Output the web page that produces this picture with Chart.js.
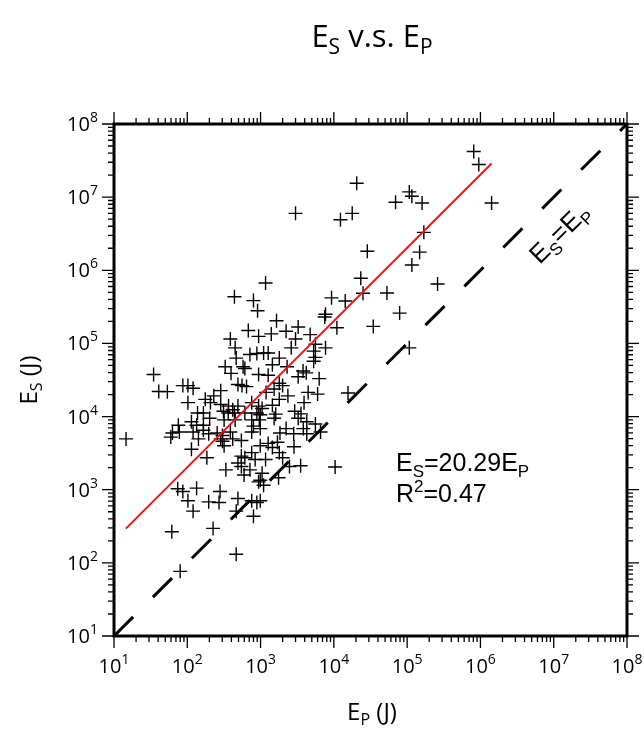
<!DOCTYPE html>
<html lang="en">
<head>
<meta charset="UTF-8" />
<title>Es v.s. Ep</title>
<style>
  body { margin: 0; background: #fff; }
  canvas { display: block; }
</style>
</head>
<body>
<canvas id="chart" width="644" height="736"></canvas>
<script src="https://cdn.jsdelivr.net/npm/chart.js"></script>
<script>
// E_P (J) of every event
const epValues = [
  8.1e5, 9.5e5, 2.05e4, 1.07e5, 1.16e5, 6.95e4, 1.6e5, 1.42e6, 3.0e3, 1.78e4,
  1.23e4, 1.69e5, 2.86e4, 1.48e5, 1.16e5, 1.17e3, 2.33e4, 2.6e5, 440, 800,
  910, 9.3e3, 1.43e4, 2.5e4, 5.3e4, 7.7e3, 7.5e3, 7.9e4, 1.65e3, 1.1e4,
  3.45e4, 680, 940, 1.4e3, 2.23e3, 3.26e3, 4.75e3, 387, 3.0e3, 450,
  2.62e3, 5.6e3, 7.7e3, 1.07e5, 5.3e3, 890, 1.1e3, 1.27e3, 716, 465,
  1.8e3, 5.6e3, 1.45e3, 577, 610, 329, 395, 2.3e3, 5.3e3, 3.8e3,
  4.2e3, 940, 1.27e3, 3.26e3, 6.3e3, 34.7, 87, 102, 120, 40.8,
  53.5, 491, 558, 643, 1.8e3, 2.0e3, 286, 230, 1.19e3, 1.53e3,
  2.36e3, 4.46e3, 6.0e3, 1.56e4, 102, 176, 207, 286, 366, 417,
  491, 757, 940, 1.05e3, 1.45e3, 1.8e3, 3.92e3, 138, 166, 312,
  362, 440, 610, 890, 990, 1.61e3, 2.92e3, 3.56e3, 202, 114,
  318, 450, 757, 960, 1.53e3, 3.26e3, 4.27e3, 75.5, 134, 166,
  78, 800, 990, 2.23e3, 3.83e3, 5.6e3, 62.8, 59.6, 14.6, 120,
  166, 196, 256, 302, 387, 757, 1.84e3, 2.83e3, 4.27e3, 6.58e3,
  286, 302, 417, 547, 1.27e3, 1.7e3, 142, 114, 318, 990,
  1.45e3, 1.8e3, 2.86e3, 757, 185, 547, 610, 491, 843, 1.17e3,
  2.0e3, 336, 547, 716, 2.48e3, 3.52e3, 1.04e4, 596, 1.05e3, 1.76e3,
  940, 1.1e3, 990, 74, 87, 134, 280, 102, 196, 271,
  491, 757, 890, 990, 120, 465, 800, 61.5, 225, 465,
  80
];
// E_S (J) of the same events
const esValues = [
  4.2e7, 2.8e7, 1.55e7, 1.18e7, 1.03e7, 8.5e6, 8.3e6, 8.3e6, 6.0e6, 6.0e6,
  4.9e6, 3.3e6, 1.82e6, 1.77e6, 1.18e6, 6.7e5, 7.8e5, 6.5e5, 4.35e5, 3.85e5,
  2.8e5, 4.2e5, 3.8e5, 4.85e5, 4.9e5, 2.5e5, 2.3e5, 2.6e5, 2.04e5, 1.64e5,
  1.71e5, 1.5e5, 1.25e5, 1.35e5, 1.47e5, 1.68e5, 1.32e5, 1.15e5, 1.15e5, 8.7e4,
  8.7e4, 9.75e4, 8.7e4, 8.7e4, 7.85e4, 7.3e4, 7.4e4, 7.4e4, 7.05e4, 6.3e4,
  6.3e4, 6.45e4, 5.1e4, 4.8e4, 4.55e4, 4.8e4, 3.9e4, 4.8e4, 5.7e4, 4.2e4,
  3.96e4, 3.76e4, 3.67e4, 3.5e4, 3.3e4, 3.76e4, 2.65e4, 2.65e4, 2.44e4, 2.2e4,
  2.19e4, 2.74e4, 2.65e4, 2.57e4, 2.86e4, 2.65e4, 2.26e4, 1.92e4, 2.14e4, 2.38e4,
  1.92e4, 2.14e4, 2.03e4, 2.1e4, 1.55e4, 1.72e4, 1.55e4, 1.46e4, 1.39e4, 1.24e4,
  1.39e4, 1.55e4, 1.39e4, 1.29e4, 1.43e4, 1.72e4, 1.55e4, 1.12e4, 1.12e4, 1.18e4,
  1.12e4, 1.12e4, 1.12e4, 1.12e4, 1.06e4, 1.08e4, 1.18e4, 1.09e4, 9.5e3, 8.5e3,
  9.0e3, 9.0e3, 9.0e3, 9.0e3, 9.5e3, 9.5e3, 8.5e3, 7.6e3, 7.6e3, 7.6e3,
  6.15e3, 7.4e3, 6.85e3, 6.85e3, 6.85e3, 7.9e3, 5.96e3, 5.24e3, 4.95e3, 6.15e3,
  6.5e3, 5.83e3, 5.96e3, 5.52e3, 6.15e3, 6.15e3, 5.96e3, 5.83e3, 5.83e3, 6.15e3,
  4.95e3, 4.6e3, 4.95e3, 4.7e3, 4.3e3, 4.45e3, 4.95e3, 3.58e3, 3.99e3, 3.99e3,
  3.78e3, 3.21e3, 3.86e3, 3.21e3, 2.73e3, 2.88e3, 2.73e3, 2.32e3, 2.59e3, 2.59e3,
  2.73e3, 1.87e3, 2.08e3, 1.87e3, 2.08e3, 2.13e3, 2.04e3, 1.59e3, 1.68e3, 1.46e3,
  1.28e3, 1.15e3, 1.35e3, 1.03e3, 946, 1.05e3, 946, 706, 682, 668,
  760, 706, 668, 706, 509, 509, 434, 266, 296, 131,
  76.5
];
// regression E_S = 20.29 E_P, drawn over the range of the data
const fitEp = [14.5, 1.42e6];
const fitEs = [294, 2.88e7];
// E_S = E_P reference line
const oneToOne = [10, 1e8];
// decade ticks 10^1 .. 10^8
const tickPowers = [1, 2, 3, 4, 5, 6, 7, 8];
const minorSteps = [2, 3, 4, 5, 6, 7, 8, 9];

const LABEL_FONT = '"Open Sans", "DejaVu Sans", sans-serif';
const TEXT_FONT = '"Liberation Sans", Arial, sans-serif';

// draws a run of text pieces [text, size, dy] starting at x (baseline y)
function drawRuns(ctx, runs, x, y, family, align) {
  let total = 0;
  runs.forEach(r => { ctx.font = r[1] + 'px ' + family; total += ctx.measureText(r[0]).width; });
  let cx = align === 'center' ? x - total / 2 : align === 'right' ? x - total : x;
  ctx.textAlign = 'left';
  ctx.textBaseline = 'alphabetic';
  runs.forEach(r => {
    ctx.font = r[1] + 'px ' + family;
    ctx.fillText(r[0], cx, y + r[2]);
    cx += ctx.measureText(r[0]).width;
  });
}

const framePlugin = {
  id: 'frame',
  beforeDraw(chart) {
    const ctx = chart.ctx;
    ctx.save();
    ctx.fillStyle = '#fff';
    ctx.fillRect(0, 0, chart.width, chart.height);
    ctx.restore();
  },
  afterDraw(chart) {
    const ctx = chart.ctx;
    const a = chart.chartArea;
    const xs = chart.scales.x, ys = chart.scales.y;
    ctx.save();
    ctx.strokeStyle = '#000';
    ctx.fillStyle = '#000';

    // ticks on all four sides, pointing out
    ctx.lineWidth = 1.3;
    ctx.beginPath();
    tickPowers.forEach(p => {
      const v = Math.pow(10, p);
      const px = xs.getPixelForValue(v), py = ys.getPixelForValue(v);
      ctx.moveTo(px, a.bottom); ctx.lineTo(px, a.bottom + 12);
      ctx.moveTo(px, a.top); ctx.lineTo(px, a.top - 12);
      ctx.moveTo(a.left, py); ctx.lineTo(a.left - 12, py);
      ctx.moveTo(a.right, py); ctx.lineTo(a.right + 12, py);
      if (p < 8) {
        minorSteps.forEach(k => {
          const mx = xs.getPixelForValue(k * v), my = ys.getPixelForValue(k * v);
          ctx.moveTo(mx, a.bottom); ctx.lineTo(mx, a.bottom + 6);
          ctx.moveTo(mx, a.top); ctx.lineTo(mx, a.top - 6);
          ctx.moveTo(a.left, my); ctx.lineTo(a.left - 6, my);
          ctx.moveTo(a.right, my); ctx.lineTo(a.right + 6, my);
        });
      }
    });
    ctx.stroke();

    // frame
    ctx.lineWidth = 3;
    ctx.strokeRect(a.left, a.top, a.right - a.left, a.bottom - a.top);

    // tick labels
    tickPowers.forEach(p => {
      const v = Math.pow(10, p);
      const runs = [['10', 20, 0], [String(p), 14, -9]];
      drawRuns(ctx, runs, xs.getPixelForValue(v), a.bottom + 37, LABEL_FONT, 'center');
      drawRuns(ctx, runs, a.left - 16, ys.getPixelForValue(v) + 7, LABEL_FONT, 'right');
    });

    // title and axis titles
    drawRuns(ctx, [['E', 31, 0], ['S', 21, 7], [' v.s. E', 31, 0], ['P', 21, 7]], 372, 47, LABEL_FONT, 'center');
    drawRuns(ctx, [['E', 24, 0], ['P', 16, 5], [' (J)', 24, 0]], 372, 720, LABEL_FONT, 'center');
    ctx.save();
    ctx.translate(37, 380);
    ctx.rotate(-Math.PI / 2);
    drawRuns(ctx, [['E', 24, 0], ['S', 16, 5], [' (J)', 24, 0]], 0, 0, LABEL_FONT, 'center');
    ctx.restore();

    // in-plot annotations
    drawRuns(ctx, [['E', 25, 0], ['S', 17, 6], ['=20.29E', 25, 0], ['P', 17, 6]], 396, 471, TEXT_FONT, 'left');
    drawRuns(ctx, [['R', 25, 0], ['2', 17, -10], ['=0.47', 25, 0]], 396, 502, TEXT_FONT, 'left');

    ctx.save();
    ctx.translate(559, 233);
    ctx.rotate(-Math.PI / 4);
    drawRuns(ctx, [['E', 26, 0], ['S', 17, 6], ['=E', 26, 0], ['P', 17, 6]], 0, 9, TEXT_FONT, 'center');
    ctx.restore();

    ctx.restore();
  }
};

const pointData = epValues.map((x, i) => ({ x: x, y: esValues[i] }));

new Chart(document.getElementById('chart').getContext('2d'), {
  type: 'scatter',
  data: {
    datasets: [
      {
        label: 'E_S = E_P',
        data: oneToOne.map(v => ({ x: v, y: v })),
        showLine: true,
        borderColor: '#000',
        borderWidth: 3,
        borderDash: [27, 28],
        pointRadius: 0,
        fill: false
      },
      {
        label: 'fit',
        data: fitEp.map((x, i) => ({ x: x, y: fitEs[i] })),
        showLine: true,
        borderColor: '#f01414',
        borderWidth: 2,
        pointRadius: 0,
        fill: false
      },
      {
        label: 'events',
        data: pointData,
        pointStyle: 'cross',
        pointRadius: 7,
        borderColor: '#000',
        borderWidth: 1.4,
        backgroundColor: '#000'
      }
    ]
  },
  options: {
    responsive: false,
    animation: false,
    layout: { padding: { left: 114, right: 17, top: 124, bottom: 100 } },
    scales: {
      x: { type: 'logarithmic', min: 10, max: 1e8, display: false },
      y: { type: 'logarithmic', min: 10, max: 1e8, display: false }
    },
    plugins: {
      legend: { display: false },
      tooltip: { enabled: false }
    }
  },
  plugins: [framePlugin]
});
</script>
</body>
</html>
